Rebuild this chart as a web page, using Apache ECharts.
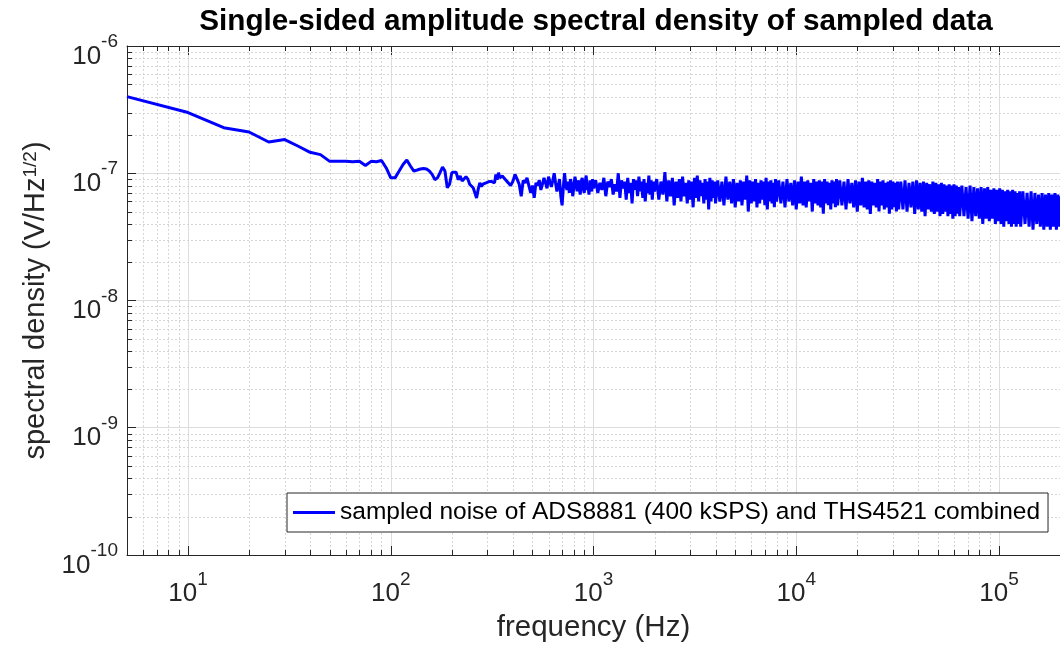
<!DOCTYPE html>
<html><head><meta charset="utf-8">
<script src="https://cdn.jsdelivr.net/npm/echarts@6/dist/echarts.min.js"></script>
<style>html,body{margin:0;padding:0;background:#fff}#c{width:1060px;height:648px}</style>
</head><body><div id="c"></div>
<script>
const chartTitle = 'Single-sided amplitude spectral density of sampled data';
const seriesName = 'sampled noise of ADS8881 (400 kSPS) and THS4521 combined';
const xName = 'frequency (Hz)';
const yNameRich = 'spectral density (V/Hz{s|1/2})';
const xMin = 5, xMax = 200000;
const yMin = 1e-10, yMax = 1e-6;

// frequency (Hz) and amplitude spectral density (nV/sqrt(Hz))
const lowFreq = [5,10,15,20,25,30,35,40,45,50,55,60,65,70,75,80,85,90,95,100,105,110,115,120,125,130,135,140,145,150,155,160,165,170,175,180,185,190,195,200,205,210,215,220,225,230,235,240,245,250,255,260,265,270,275,280,285,290,295,300,305,310,315,320,325,330,335,340,345,350,355];
const lowVal = [400,300,228,211,176,184,163,146,140,124,124,124,123,124,115,124,123,126,110,92,92,104,117,127,114,104,106,108,109,108,104,98,89,92,101,112,104,77,82,101,102,102,89,95,87,84,94,90,82,84,77,75,64,75,84,79,82,83,84,84,86,85,86,89,84,98,89,101,92,89,95];

const midFreq = [360,370,380,390,400,410,420,430,440,450,460,470,480,490,500,510,520,530,540,550,560,570,580,590,600,610,620,630,640,650,660,670,680,690,700,710,720,730,740,750,760,770,780,790,800,810,820,830,840,850,860,870,880,890,900,910,920,930,940,950,960,970,980,990,1000];
const midVal = [95,88,84,80,86,98,90,82,66,88,84,92,80,70,80,64,84,80,88,74,82,92,84,76,94,86,78,88,100,84,72,80,90,66,56,78,100,80,74,86,70,90,82,66,78,94,84,72,88,78,68,86,92,76,70,84,96,74,80,68,88,78,72,90,76];

const highFreq = [1025,1050,1075,1100,1125,1150,1175,1200,1225,1250,1275,1300,1325,1350,1375,1400,1425,1450,1475,1500,1525,1550,1575,1600,1625,1650,1675,1700,1725,1750,1775,1800,1825,1850,1875,1900,1925,1950,1975,2000,
2050,2100,2150,2200,2250,2300,2350,2400,2450,2500,2550,2600,2650,2700,2750,2800,2850,2900,2950,3000,3050,3100,3150,3200,3250,3300,3350,3400,3450,3500,3550,3600,3650,3700,3750,3800,3850,3900,3950,4000,
4100,4200,4300,4400,4500,4600,4700,4800,4900,5000,5100,5200,5300,5400,5500,5600,5700,5800,5900,6000,6100,6200,6300,6400,6500,6600,6700,6800,6900,7000,7100,7200,7300,7400,7500,7600,7700,7800,7900,8000,
8200,8400,8600,8800,9000,9200,9400,9600,9800,10000,10200,10400,10600,10800,11000,11200,11400,11600,11800,12000,12200,12400,12600,12800,13000,13200,13400,13600,13800,14000,14200,14400,14600,14800,15000,15200,15400,15600,15800,16000,
16400,16800,17200,17600,18000,18400,18800,19200,19600,20000,20400,20800,21200,21600,22000,22400,22800,23200,23600,24000,24400,24800,25200,25600,26000,26400,26800,27200,27600,28000,28400,28800,29200,29600,30000,30400,30800,31200,31600,32000,
32800,33600,34400,35200,36000,36800,37600,38400,39200,40000,40800,41600,42400,43200,44000,44800,45600,46400,47200,48000,48800,49600,50400,51200,52000,52800,53600,54400,55200,56000,56800,57600,58400,59200,60000,60800,61600,62400,63200,64000,
65600,67200,68800,70400,72000,73600,75200,76800,78400,80000,81600,83200,84800,86400,88000,89600,91200,92800,94400,96000,97600,99200,100800,102400,104000,105600,107200,108800,110400,112000,113600,115200,116800,118400,120000,121600,123200,124800,126400,128000,
131200,134400,137600,140800,144000,147200,150400,153600,156800,160000,163200,166400,169600,172800,176000,179200,182400,185600,188800,192000,195200,198400,200000];
const highVal = [88,70,84,74,92,66,86,78,90,68,82,72,100,64,88,76,86,62,92,70,84,58,90,74,88,66,94,72,86,64,90,60,84,70,96,68,88,62,86,72,
90,62,86,68,102,60,88,66,92,56,86,64,90,60,94,66,84,58,88,62,86,54,92,64,96,60,88,66,84,58,90,62,86,52,92,60,88,64,86,58,
88,60,86,56,94,62,86,58,90,54,84,60,88,56,86,62,96,50,88,58,86,60,90,54,84,58,88,62,86,56,92,52,86,60,88,58,84,54,90,60,
88,58,86,54,90,60,84,56,88,52,86,58,94,56,86,54,88,60,84,50,90,58,86,56,88,54,86,48,90,58,86,56,84,52,88,58,86,54,90,56,
88,56,86,52,90,58,84,54,88,50,86,56,92,54,86,52,88,48,86,56,84,54,90,50,86,56,88,52,84,54,86,48,88,52,86,54,84,50,86,52,
86,52,88,50,84,54,86,48,88,52,84,50,86,46,84,52,82,50,86,48,84,50,82,46,84,48,82,50,80,46,82,48,80,44,82,46,80,48,78,46,
80,46,78,44,80,42,78,46,76,44,78,40,76,44,78,42,74,44,76,40,74,42,76,40,74,38,72,42,74,40,72,38,74,40,72,38,70,40,72,38,
72,40,70,38,72,36,70,40,68,38,70,36,68,38,70,36,68,38,70,36,68,38,66];

const FONT = '"Liberation Sans", Arial, Helvetica, sans-serif';
const AX = '#262626';

const freqs = lowFreq.concat(midFreq, highFreq);
const vals = lowVal.concat(midVal, highVal);
const lineData = freqs.map((f, i) => [f, vals[i] * 1e-9]);

// minor (2..9 x decade) grid positions
const minorX = [];
for (let d = 0; d <= 5; d++) for (let k = 2; k <= 9; k++) { const v = k * Math.pow(10, d); if (v > xMin && v < xMax) minorX.push(v); }
const minorY = [];
for (let d = -10; d <= -7; d++) for (let k = 2; k <= 9; k++) minorY.push(k * Math.pow(10, d));

const powLabel = v => { const e = Math.round(Math.log10(v)); return '{b|10}{s|' + e + '}'; };
const labelRich = {
  b: { fontSize: 26, fontFamily: FONT, color: AX, lineHeight: 37, verticalAlign: 'bottom' },
  s: { fontSize: 19, fontFamily: FONT, color: AX, lineHeight: 19, verticalAlign: 'top' }
};
const crisp = v => Math.round(v) + 0.5;

const chart = echarts.init(document.getElementById('c'), null, { renderer: 'canvas' });
chart.setOption({
  animation: false,
  backgroundColor: '#fff',
  title: {
    text: chartTitle, left: 596, top: 7, textAlign: 'center', padding: 0,
    textStyle: { fontSize: 29.7, fontWeight: 'bold', fontFamily: FONT, color: '#000' }
  },
  grid: { left: 127, right: -5, top: 46, bottom: 91, containLabel: false },
  legend: {
    data: [seriesName], left: 287, top: 493, padding: [7, 8, 7, 6],
    icon: 'rect', itemWidth: 42, itemHeight: 3, itemGap: 0,
    borderColor: AX, borderWidth: 1, borderRadius: 0,
    backgroundColor: '#fff', textStyle: { fontSize: 24.5, fontFamily: FONT, color: '#000' }
  },
  xAxis: [{
    type: 'log', logBase: 10, min: xMin, max: xMax,
    name: xName, nameLocation: 'middle', nameGap: 58,
    nameTextStyle: { fontSize: 29.5, fontFamily: FONT, color: AX },
    axisLine: { show: true, lineStyle: { color: AX, width: 1 } },
    axisTick: { show: true, inside: true, length: 9, lineStyle: { color: AX } },
    axisLabel: { margin: 15, formatter: powLabel, rich: labelRich, showMinLabel: false, showMaxLabel: false },
    splitLine: { show: true, lineStyle: { color: '#dcdcdc', width: 1 } }
  }, {
    type: 'log', logBase: 10, min: xMin, max: xMax, position: 'top',
    axisLine: { show: true, lineStyle: { color: AX, width: 1 } },
    axisTick: { show: true, inside: true, length: 9, lineStyle: { color: AX } },
    axisLabel: { show: false }, splitLine: { show: false }
  }],
  yAxis: {
    type: 'log', logBase: 10, min: yMin, max: yMax,
    name: yNameRich, nameLocation: 'middle', nameGap: 72,
    nameTextStyle: { fontSize: 29, fontFamily: FONT, color: AX,
      rich: { s: { fontSize: 19, fontFamily: FONT, color: AX, verticalAlign: 'top', lineHeight: 19 } } },
    axisLine: { show: true, lineStyle: { color: AX, width: 1 } },
    axisTick: { show: true, inside: true, length: 9, lineStyle: { color: AX } },
    axisLabel: { margin: 9, formatter: powLabel, rich: labelRich, padding: [10, 0, 0, 0] },
    splitLine: { show: true, lineStyle: { color: '#dcdcdc', width: 1 } }
  },
  series: [
    {
      type: 'custom', silent: true, z: 1, xAxisIndex: 0, yAxisIndex: 0,
      data: minorX.map(v => [v, yMin]),
      renderItem: (params, api) => {
        const v = api.value(0);
        const p1 = api.coord([v, yMin]), p2 = api.coord([v, yMax]);
        const x = crisp(p1[0]);
        return { type: 'group', children: [
          { type: 'line', shape: { x1: x, y1: p1[1], x2: x, y2: p2[1] }, style: { stroke: '#d6d6d6', lineWidth: 1, lineDash: [2, 2] } },
          { type: 'line', shape: { x1: x, y1: p1[1], x2: x, y2: p1[1] - 5 }, style: { stroke: AX, lineWidth: 1 } },
          { type: 'line', shape: { x1: x, y1: p2[1], x2: x, y2: p2[1] + 5 }, style: { stroke: AX, lineWidth: 1 } }
        ] };
      }
    },
    {
      type: 'custom', silent: true, z: 1, xAxisIndex: 0, yAxisIndex: 0,
      data: minorY.map(v => [xMin, v]),
      renderItem: (params, api) => {
        const v = api.value(1);
        const p1 = api.coord([xMin, v]), p2 = api.coord([xMax, v]);
        const y = crisp(p1[1]);
        return { type: 'group', children: [
          { type: 'line', shape: { x1: p1[0], y1: y, x2: p2[0], y2: y }, style: { stroke: '#d6d6d6', lineWidth: 1, lineDash: [2, 2] } },
          { type: 'line', shape: { x1: p1[0], y1: y, x2: p1[0] + 5, y2: y }, style: { stroke: AX, lineWidth: 1 } }
        ] };
      }
    },
    {
      type: 'line', name: seriesName, data: lineData, z: 5,
      showSymbol: false, symbol: 'none', sampling: null,
      lineStyle: { color: '#0000ff', width: 3 }, itemStyle: { color: '#0000ff' },
      clip: true
    }
  ]
});
</script>
</body></html>
